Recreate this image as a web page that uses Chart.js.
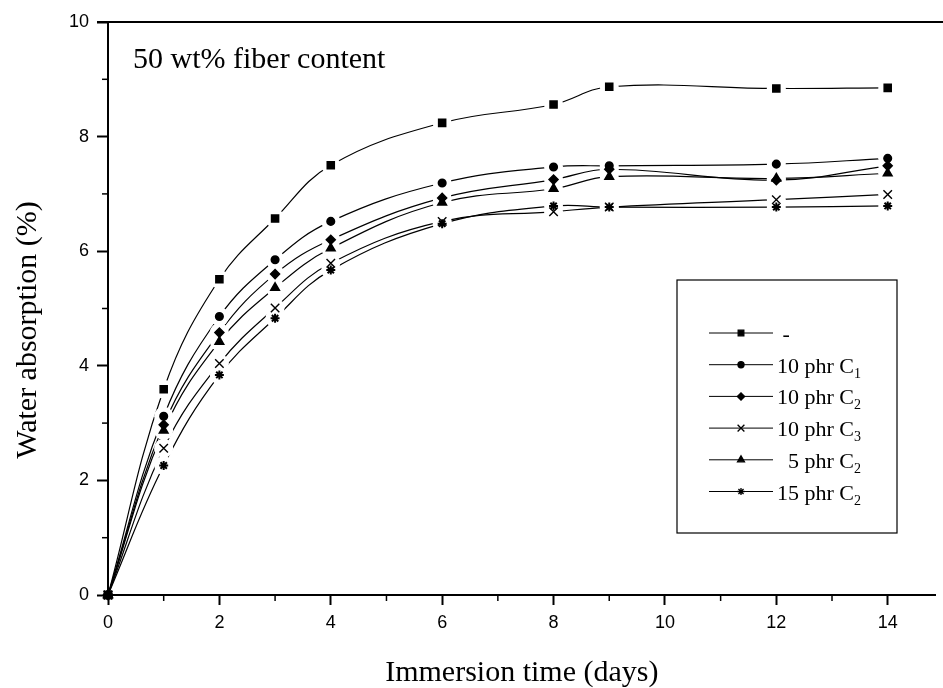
<!DOCTYPE html>
<html>
<head>
<meta charset="utf-8">
<title>Water absorption - 50 wt% fiber content</title>
<script src="https://cdn.jsdelivr.net/npm/chart.js@4.4.1/dist/chart.umd.min.js"></script>
<style>
    html, body { margin: 0; padding: 0; background: #fff; }
    #wrap { width: 943px; height: 688px; position: relative; }
</style>
</head>
<body>
<div id="wrap"><canvas id="absorptionChart"></canvas></div>
<script>
// Immersion time (days) vs water absorption (%) for each formulation
const days = [0, 1, 2, 3, 4, 6, 8, 9, 12, 14];
const noAgent = [0, 3.59, 5.51, 6.57, 7.50, 8.24, 8.56, 8.87, 8.84, 8.85];
const phr10C1 = [0, 3.12, 4.86, 5.85, 6.52, 7.19, 7.47, 7.49, 7.52, 7.62];
const phr10C2 = [0, 2.97, 4.58, 5.60, 6.20, 6.93, 7.25, 7.43, 7.24, 7.49];
const phr10C3 = [0, 2.56, 4.04, 5.01, 5.79, 6.52, 6.69, 6.77, 6.90, 6.99];
const phr5C2 = [0, 2.87, 4.42, 5.36, 6.05, 6.85, 7.09, 7.30, 7.27, 7.36];
const phr15C2 = [0, 2.26, 3.84, 4.83, 5.67, 6.48, 6.79, 6.77, 6.77, 6.79];

// legend text: [main text, subscript]
const legendLabels = [[' -', ''], ['10 phr C', '1'], ['10 phr C', '2'], ['10 phr C', '3'], ['  5 phr C', '2'], ['15 phr C', '2']];

const xTicks = [0, 2, 4, 6, 8, 10, 12, 14];
const xMinorTicks = [1, 3, 5, 7, 9, 11, 13];
const yTicks = [0, 2, 4, 6, 8, 10];
const yMinorTicks = [1, 3, 5, 7, 9];

const SERIF = '"Liberation Serif", "Times New Roman", serif';
const SANS = '"Liberation Sans", Arial, sans-serif';

const markers = [
    { style: 'rect', radius: 5, width: 1.5 },
    { style: 'circle', radius: 3.8, width: 1.5 },
    { style: 'rectRot', radius: 4.5, width: 1.5 },
    { style: 'crossRot', radius: 6, width: 1.4 },
    { style: 'triangle', radius: 5, width: 1.5 },
    { style: 'star', radius: 4.5, width: 2 }
];
const seriesValues = [noAgent, phr10C1, phr10C2, phr10C3, phr5C2, phr15C2];

function buildDataset(values, i) {
    return {
        label: legendLabels[i].join('').trim(),
        data: days.map((d, k) => ({ x: d, y: values[k] })),
        borderColor: '#000',
        backgroundColor: '#000',
        borderWidth: 1.2,
        tension: 0.4,
        pointStyle: markers[i].style,
        pointRadius: markers[i].radius,
        pointBorderWidth: markers[i].width,
        pointBackgroundColor: '#000',
        pointBorderColor: '#000',
        clip: false
    };
}

// Origin-style extras: gaps round markers, frame, minor ticks, titles, legend box
const decorations = {
    id: 'decorations',
    beforeDatasetsDraw(chart) {
        const ctx = chart.ctx;
        const area = chart.chartArea;
        const xs = chart.scales.x, ys = chart.scales.y;
        ctx.save();
        ctx.strokeStyle = '#000';
        ctx.lineWidth = 2;
        ctx.beginPath();
        ctx.moveTo(area.left - 11, area.top);
        ctx.lineTo(chart.width, area.top);
        ctx.stroke();
        ctx.lineWidth = 1.5;
        xMinorTicks.forEach(v => {
            const px = xs.getPixelForValue(v);
            ctx.beginPath();
            ctx.moveTo(px, area.bottom);
            ctx.lineTo(px, area.bottom + 6);
            ctx.stroke();
        });
        yMinorTicks.forEach(v => {
            const py = ys.getPixelForValue(v);
            ctx.beginPath();
            ctx.moveTo(area.left, py);
            ctx.lineTo(area.left - 6, py);
            ctx.stroke();
        });
        ctx.restore();
    },
    afterDatasetsDraw(chart) {
        const ctx = chart.ctx;
        const area = chart.chartArea;
        ctx.save();

        // white halo behind every marker (not at the origin)
        ctx.fillStyle = '#ffffff';
        chart.data.datasets.forEach((ds, i) => {
            chart.getDatasetMeta(i).data.forEach((pt, k) => {
                if (ds.data[k].x === 0) return;
                ctx.beginPath();
                ctx.arc(pt.x, pt.y, 9.5, 0, Math.PI * 2);
                ctx.closePath();
                ctx.fill();
            });
        });
        chart.data.datasets.forEach((ds, i) => {
            chart.getDatasetMeta(i).data.forEach(pt => pt.draw(ctx));
        });

        // annotation
        ctx.fillStyle = '#000';
        ctx.font = '30px ' + SERIF;
        ctx.textAlign = 'left';
        ctx.textBaseline = 'alphabetic';
        ctx.fillText('50 wt% fiber content', area.left + 25, 68);

        // axis titles
        ctx.textAlign = 'center';
        ctx.textBaseline = 'middle';
        ctx.fillText('Immersion time (days)', (area.left + area.right) / 2, 673);
        ctx.save();
        ctx.translate(28, 330);
        ctx.rotate(-Math.PI / 2);
        ctx.fillText('Water absorption (%)', 0, 0);
        ctx.restore();

        // legend box
        const box = { left: 677, top: 280, right: 897, bottom: 533 };
        ctx.strokeStyle = '#000';
        ctx.lineWidth = 1.2;
        ctx.strokeRect(box.left, box.top, box.right - box.left, box.bottom - box.top);
        ctx.textAlign = 'left';
        ctx.textBaseline = 'alphabetic';
        legendLabels.forEach((lab, i) => {
            const y = box.top + 53 + i * 31.7;
            ctx.lineWidth = 1;
            ctx.beginPath();
            ctx.moveTo(box.left + 32, y);
            ctx.lineTo(box.left + 96, y);
            ctx.stroke();
            ctx.fillStyle = '#000';
            ctx.lineWidth = 1.3;
            Chart.helpers.drawPoint(ctx, {
                pointStyle: markers[i].style,
                radius: markers[i].radius * 0.8,
                borderWidth: 1.3,
                rotation: 0
            }, box.left + 64, y);
            const tx = box.left + 100;
            ctx.font = '22px ' + SERIF;
            ctx.fillText(lab[0], tx, y + 8);
            if (lab[1]) {
                const w = ctx.measureText(lab[0]).width;
                ctx.font = '14px ' + SERIF;
                ctx.fillText(lab[1], tx + w, y + 13);
            }
        });
        ctx.restore();
    }
};

const config = {
    type: 'line',
    data: { datasets: seriesValues.map(buildDataset) },
    options: {
        responsive: true,
        maintainAspectRatio: false,
        animation: false,
        layout: { padding: { top: 22, right: 0, bottom: 0, left: 0 } },
        plugins: {
            legend: { display: false },
            tooltip: { enabled: false }
        },
        scales: {
            x: {
                type: 'linear',
                min: 0,
                max: 14.86,
                afterBuildTicks: scale => { scale.ticks = xTicks.map(v => ({ value: v })); },
                afterFit: scale => { scale.height = 93; },
                grid: { drawOnChartArea: false, drawTicks: true, tickLength: 10, tickWidth: 2, tickColor: '#000' },
                border: { display: true, color: '#000', width: 2 },
                ticks: { color: '#000', font: { family: SANS, size: 18 }, padding: 7, maxRotation: 0, autoSkip: false }
            },
            y: {
                type: 'linear',
                min: 0,
                max: 10,
                afterBuildTicks: scale => { scale.ticks = yTicks.map(v => ({ value: v })); },
                afterFit: scale => { scale.width = 108; },
                grid: { drawOnChartArea: false, drawTicks: true, tickLength: 11, tickWidth: 2, tickColor: '#000' },
                border: { display: true, color: '#000', width: 2 },
                ticks: { color: '#000', font: { family: SANS, size: 18 }, padding: 8 }
            }
        }
    },
    plugins: [decorations]
};

new Chart(document.getElementById('absorptionChart'), config);
</script>
</body>
</html>
